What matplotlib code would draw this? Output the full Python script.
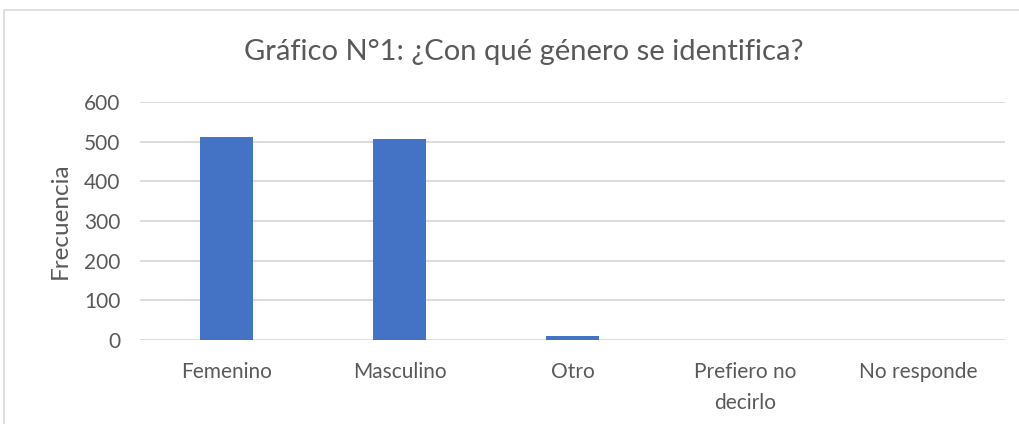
import matplotlib.pyplot as plt
from matplotlib.patches import Rectangle

categorias = ['Femenino', 'Masculino', 'Otro', 'Prefiero no\ndecirlo', 'No responde']
frecuencia = [511, 507, 9, 0, 0]
ticks_y = [0, 100, 200, 300, 400, 500, 600]

plt.rcParams['font.family'] = ['Lato', 'DejaVu Sans']
texto = '#595959'

fig = plt.figure(figsize=(10.2, 4.24), dpi=100)
ax = fig.add_axes([140/1020, 1 - 340/424, 865/1020, 238/424])

x = range(len(categorias))
ax.bar(x, frecuencia, width=0.31, color='#4472C4', zorder=3)

ax.set_ylim(0, 600)
ax.set_xlim(-0.5, len(categorias) - 0.5)
ax.set_yticks(ticks_y)
ax.set_xticks(list(x))
ax.set_xticklabels(categorias, fontsize=15, color=texto, linespacing=1.7)
ax.tick_params(axis='y', length=0, pad=14, labelsize=15, labelcolor=texto)
ax.tick_params(axis='x', length=0, pad=16)
ax.yaxis.grid(True, color='#D9D9D9', linewidth=1.3, zorder=0)
ax.set_axisbelow(True)
for s in ax.spines.values():
    s.set_visible(False)

ax.set_ylabel('Frecuencia', fontsize=17.5, color=texto)
ax.yaxis.set_label_coords(-69/865, 0.5)

fig.text(524/1020, 1 - 52/424, 'Gráfico N°1: ¿Con qué género se identifica?',
         ha='center', va='center', fontsize=21, color=texto)

# marco del gráfico
fig.patches.append(Rectangle((4/1020, -0.1), 1.2, 1 - 10/424 + 0.1,
                             transform=fig.transFigure, fill=False,
                             edgecolor='#D9D9D9', linewidth=1.2))

fig.savefig('out.png', dpi=100)
